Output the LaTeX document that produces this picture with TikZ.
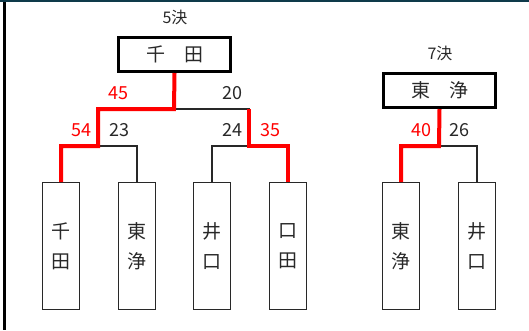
\documentclass[tikz,border=0pt]{standalone}
\usepackage{fontspec}
\setmainfont{Noto Sans CJK JP}
\usepackage{tikz}
\usetikzlibrary{positioning,calc}
\definecolor{topbar}{RGB}{14,58,74}
\definecolor{ink}{RGB}{40,40,40}
\tikzset{
  leaf/.style={
    rectangle,
    draw=ink, line width=1.2pt,
    minimum width=36.8pt,
    minimum height=126.8pt,
    inner sep=0pt,
    align=center,
    font=\fontsize{19}{30}\selectfont,
    text=ink},
  champ/.style={
    rectangle,
    draw=black, line width=3pt,
    minimum width=112pt,
    minimum height=34pt,
    inner sep=0pt,
    font=\fontsize{19}{23}\selectfont,
    text=ink},
  win/.style={draw=red, line width=4pt},
  lose/.style={draw=ink, line width=1.3pt},
  score/.style={font=\fontsize{18}{22}\selectfont, text=ink},
  wscore/.style={score, text=red},
  title/.style={font=\fontsize{16}{20}\selectfont, text=ink},
}

\begin{document}
\begin{tikzpicture}[x=1pt, y=-1pt]
	\useasboundingbox (0,0) rectangle (529,330);
	\fill[topbar] (0,0) rectangle (529,2);
	\draw[line width=2.6pt] (4.5,2) -- (4.5,330);

	% players
	\node[leaf] (leafA) at (61,246)  {千\\田};
	\node[leaf] (leafB) at (137,246) {東\\浄};
	\node[leaf] (leafC) at (212,246) {井\\口};
	\node[leaf] (leafD) at (288,246) {口\\田};
	\node[leaf] (leafE) at (401,246) {東\\浄};
	\node[leaf] (leafF) at (477,246) {井\\口};

	% winners
	\node[title] (t5) at (175,17) {5決};
	\node[champ] (win5) at (174.5,54.5) {千　田};
	\node[title] (t7) at (440,53) {7決};
	\node[champ] (win7) at (439.5,90.5) {東　浄};

	\coordinate (f1) at (174,109);
	\coordinate (s1) at (98,146);
	\coordinate (s2) at (249,146);
	\coordinate (g1) at (439,146);

	\draw[lose] (f1) -| (s2);
	\draw[lose] (s1) -| (leafB.north);
	\draw[lose] (s2) -| (leafC.north);
	\draw[lose] (g1) -| (leafF.north);

	\draw[win] (win5.south) -- (f1) -| (s1) -| (leafA.north);
	\draw[win] (leafD.north) |- (s2) -- (s2 |- f1);
	\draw[win] (win7.south) -- (g1) -| (leafE.north);

	% scores
	\node[wscore] (sc45) at (118,93)  {45};
	\node[score]  (sc20) at (232,93)  {20};
	\node[wscore] (sc54) at (81,130)  {54};
	\node[score]  (sc23) at (119,130) {23};
	\node[score]  (sc24) at (232,130) {24};
	\node[wscore] (sc35) at (270,130) {35};
	\node[wscore] (sc40) at (421,130) {40};
	\node[score]  (sc26) at (459,130) {26};
\end{tikzpicture}
\end{document}
